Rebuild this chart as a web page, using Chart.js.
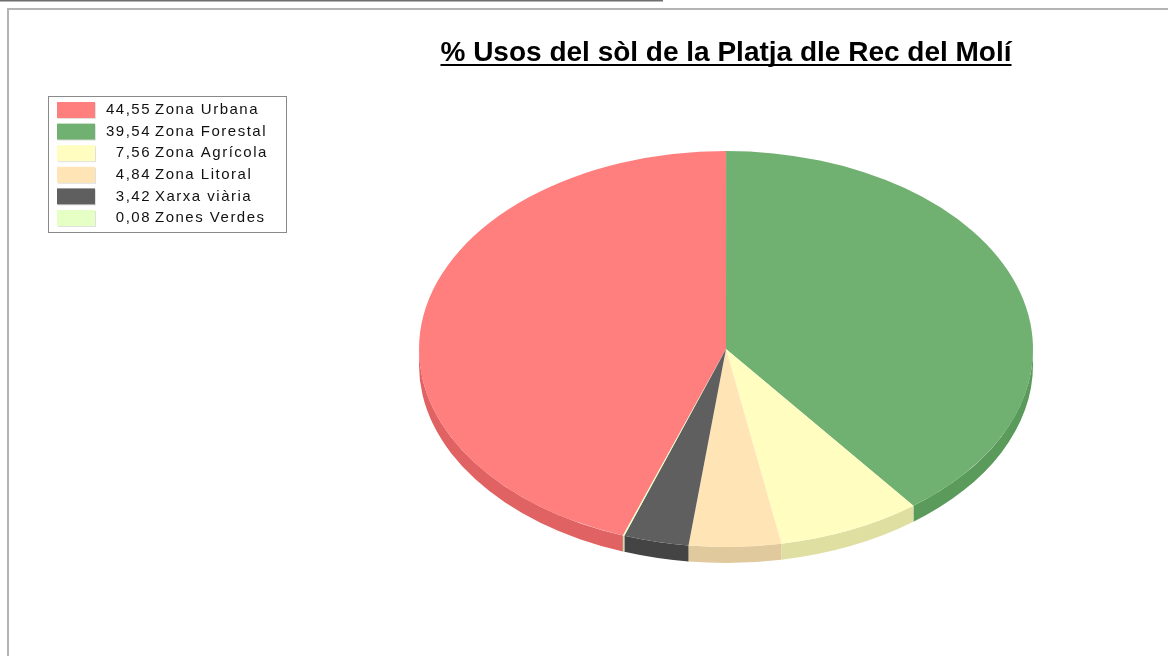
<!DOCTYPE html>
<html>
<head>
<meta charset="utf-8">
<script src="https://cdn.jsdelivr.net/npm/chart.js@4"></script>
<style>
  html, body { margin: 0; padding: 0; background: #fff; }
  #wrap { position: relative; width: 1168px; height: 656px; }
</style>
</head>
<body>
<div id="wrap"><canvas id="pie-chart" width="1168" height="656"></canvas></div>
<script>
// usos del sòl (%)
const categories = ["Zona Urbana", "Zona Forestal", "Zona Agrícola", "Zona Litoral", "Xarxa viària", "Zones Verdes"];
const percentatges = [44.55, 39.54, 7.56, 4.84, 3.42, 0.08];
const colorsCara = ["#FF7F7F", "#70B070", "#FFFDBF", "#FFE4B5", "#5F5F5F", "#E6FFC4"];
const colorsLateral = ["#E06262", "#5A9A5A", "#E0DFA2", "#E0C99C", "#444444", "#C8E0A8"];
const titol = "% Usos del sòl de la Platja dle Rec del Molí";

// el·lipse on es dibuixa el pastís pla
const EL = { cx: 726, cy: 349, rx: 307, ry: 198, fons: 16 };
const FONT_TITOL = "bold 28px 'Liberation Sans', Arial, sans-serif";

function fmt(v) {
  return v.toFixed(2).replace(".", ",");
}

// marc de la pàgina
const marc = {
  id: "marc",
  beforeDraw(chart) {
    const ctx = chart.ctx;
    ctx.save();
    ctx.fillStyle = "#6e6e6e";
    ctx.fillRect(0, 0, 663, 1.5);
    ctx.fillStyle = "#b4b4b4";
    ctx.fillRect(7, 8, 1161, 2);
    ctx.fillRect(7, 8, 2, 648);
    ctx.restore();
  }
};

// pastís aixafat amb gruix
const pastis3d = {
  id: "pastis3d",
  beforeDatasetsDraw(chart) {
    const ctx = chart.ctx;
    const meta = chart.getDatasetMeta(0);
    const a0 = meta.data[0];
    const r = a0.outerRadius;

    // costat visible (meitat de davant)
    meta.data.forEach((arc, i) => {
      let s = arc.startAngle % (2 * Math.PI);
      if (s < 0) s += 2 * Math.PI;
      const e = s + (arc.endAngle - arc.startAngle);
      [[0, Math.PI], [2 * Math.PI, 3 * Math.PI]].forEach(([lo, hi]) => {
        const a = Math.max(s, lo), b = Math.min(e, hi);
        if (b <= a) return;
        ctx.save();
        ctx.beginPath();
        ctx.ellipse(EL.cx, EL.cy, EL.rx, EL.ry, 0, a, b);
        ctx.ellipse(EL.cx, EL.cy + EL.fons, EL.rx, EL.ry, 0, b, a, true);
        ctx.closePath();
        ctx.fillStyle = colorsLateral[i];
        ctx.fill();
        ctx.restore();
      });
    });

    ctx.save();
    ctx.translate(EL.cx, EL.cy);
    ctx.scale(EL.rx / r, EL.ry / r);
    ctx.translate(-a0.x, -a0.y);
  },
  afterDatasetsDraw(chart) {
    chart.ctx.restore();
  }
};

// llegenda amb requadre i xifres alineades a la dreta
const llegenda = {
  id: "llegenda",
  afterDraw(chart) {
    const ctx = chart.ctx;
    const x0 = 48, y0 = 96, w = 238, h = 136;
    ctx.save();
    ctx.fillStyle = "#fff";
    ctx.fillRect(x0, y0, w, h);
    ctx.strokeStyle = "#8a8a8a";
    ctx.lineWidth = 1;
    ctx.strokeRect(x0 + 0.5, y0 + 0.5, w, h);
    ctx.font = "15px 'Liberation Sans', Arial, sans-serif";
    ctx.letterSpacing = "1.5px";
    ctx.textBaseline = "middle";
    const valors = chart.data.datasets[0].data;
    chart.data.labels.forEach((lab, i) => {
      const yc = 110 + i * 21.6;
      ctx.fillStyle = "rgba(0,0,0,0.12)";
      ctx.fillRect(58, yc - 7, 38, 16);
      ctx.fillStyle = colorsCara[i];
      ctx.fillRect(57, yc - 8, 38, 16);
      ctx.fillStyle = "#111";
      ctx.textAlign = "right";
      ctx.fillText(fmt(valors[i]), 151, yc);
      ctx.textAlign = "left";
      ctx.fillText(lab, 155, yc);
    });
    ctx.restore();
  }
};

// subratllat del títol
const subratllat = {
  id: "subratllat",
  afterDraw(chart) {
    const t = chart.titleBlock;
    if (!t) return;
    const ctx = chart.ctx;
    ctx.save();
    ctx.font = FONT_TITOL;
    const amp = ctx.measureText(titol).width;
    const xc = (t.left + t.right) / 2;
    ctx.fillStyle = "#000";
    ctx.fillRect(xc - amp / 2, 64, amp, 2);
    ctx.restore();
  }
};

new Chart(document.getElementById("pie-chart"), {
  type: "pie",
  data: {
    labels: categories,
    datasets: [
      {
        data: percentatges,
        backgroundColor: colorsCara,
        borderWidth: 0,
      },
    ],
  },
  options: {
    responsive: false,
    animation: false,
    rotation: -160.38,
    layout: { padding: { left: 284, top: 0, bottom: 0, right: 0 } },
    plugins: {
      legend: { display: false },
      tooltip: { enabled: false },
      title: {
        display: true,
        text: titol,
        color: "#000",
        font: { family: "'Liberation Sans', Arial, sans-serif", size: 28, weight: "bold" },
        padding: { top: 36, bottom: 10 },
      },
    },
  },
  plugins: [marc, pastis3d, llegenda, subratllat],
});
</script>
</body>
</html>
